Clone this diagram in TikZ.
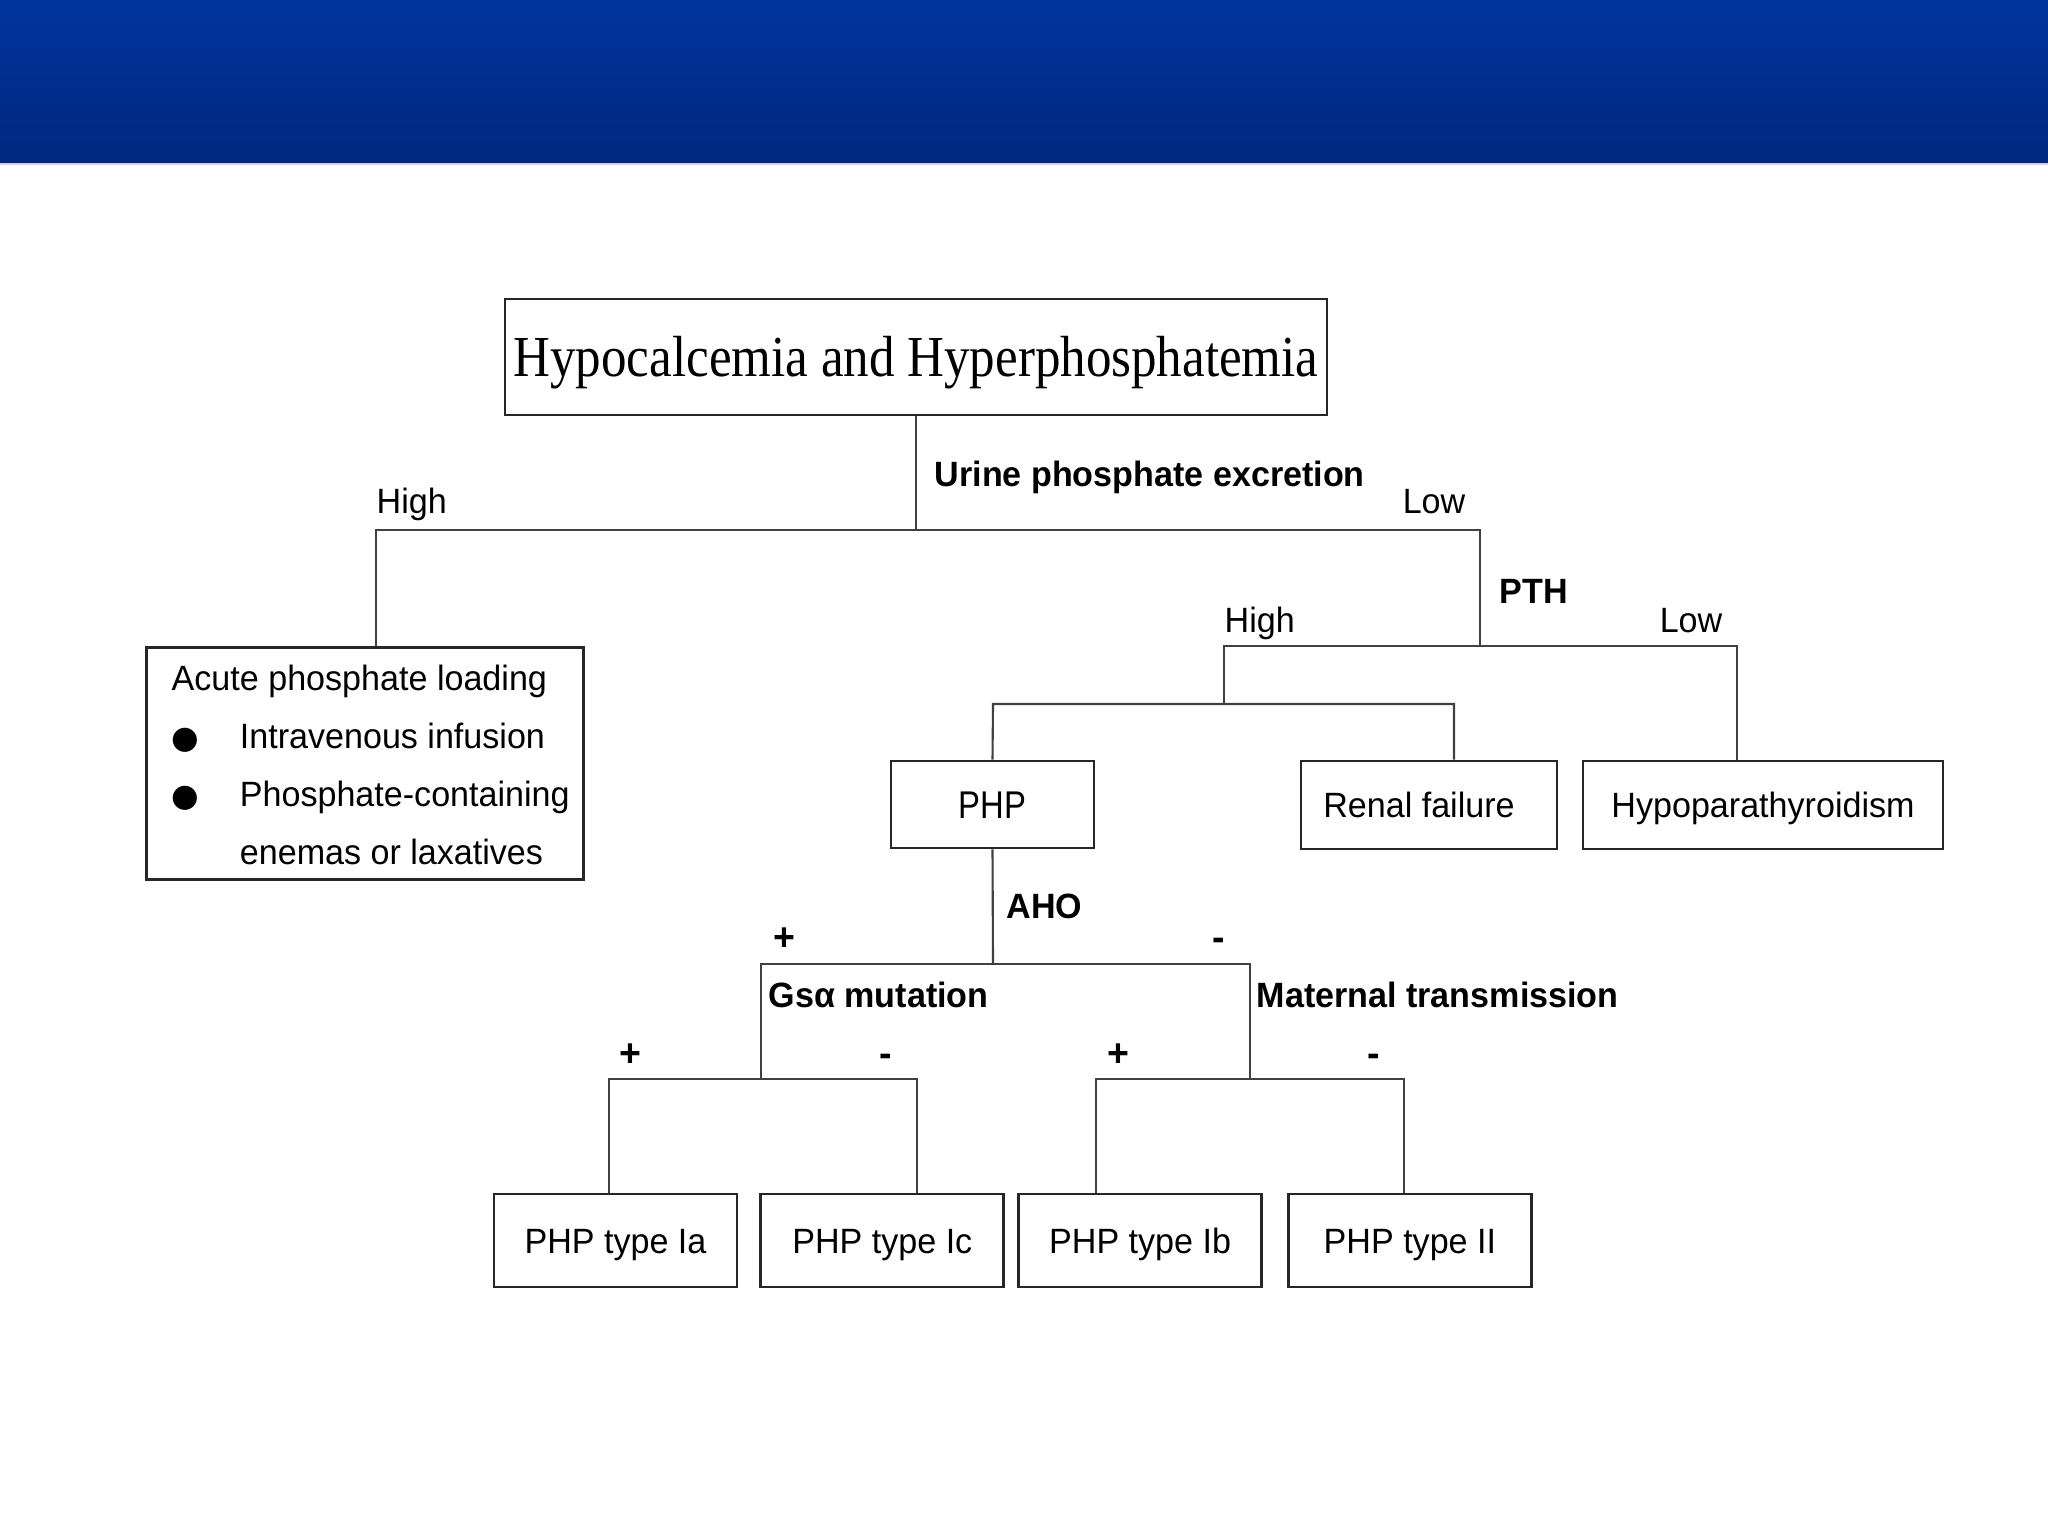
\documentclass[tikz,border=0pt]{standalone}
\usepackage{fontspec}
\setmainfont[FakeStretch=0.97]{Liberation Sans}
\newfontfamily\titlefont[FakeStretch=0.88]{Liberation Serif}
\newfontfamily\narrowsans[FakeStretch=0.85]{Liberation Sans}
\newfontfamily\dotfont{DejaVu Sans}
\usetikzlibrary{positioning}
\definecolor{bannertop}{RGB}{0,52,158}
\definecolor{bannerbot}{RGB}{0,40,126}

\begin{document}
\begin{tikzpicture}[x=0.1mm, y=-0.1mm,
    box/.style={rectangle, draw=black!85, line width=0.8pt, inner sep=0pt,
        text height=7.2pt, text depth=0pt, font=\fontsize{10}{12}\selectfont},
    leafbox/.style={box, minimum width=24.3mm, minimum height=9.3mm},
    link/.style={draw=black!75, line width=0.6pt},
    testlbl/.style={inner sep=0pt, font=\fontsize{10}{12}\selectfont\bfseries},
    branchlbl/.style={inner sep=0pt, font=\fontsize{10}{12}\selectfont},
    signlbl/.style={inner sep=0pt, font=\fontsize{11}{12}\selectfont\bfseries}]

    \useasboundingbox (0,0) rectangle (2048,1536);
    \fill[white] (0,0) rectangle (2048,1536);
    % Banner
    \shade[top color=bannertop, bottom color=bannerbot] (0,0) rectangle (2048,163);
    \draw[blue!20!white, line width=0.4pt] (0,164) -- (2048,164);

    % Nodes
    \node (top) [box, minimum width=82.2mm, minimum height=11.6mm, text height=10.9pt,
        font=\titlefont\fontsize{16.5}{20}\selectfont] at (916,357) {Hypocalcemia and Hyperphosphatemia};
    \node (acute) [box, anchor=north west, minimum width=43.7mm, minimum height=23.2mm] at (145,646) {};
    \node (acutetext) [anchor=north west, inner sep=0pt, font=\fontsize{10}{12}\selectfont] at (171,649)
        {\renewcommand\arraystretch{1.375}%
        \begin{tabular}{@{}p{19.4pt}@{}l@{}}
            \multicolumn{2}{@{}l@{}}{Acute phosphate loading}\\
            {\dotfont\fontsize{9}{9}\selectfont ●} & Intravenous infusion\\
            {\dotfont\fontsize{9}{9}\selectfont ●} & Phosphate-containing\\
            & enemas or laxatives
        \end{tabular}};
    \node (php) [box, minimum width=20.3mm, minimum height=8.7mm, text height=7.9pt,
        font=\narrowsans\fontsize{11}{13}\selectfont] at (992.5,804.5) {PHP};
    \node (renal) [box, minimum width=25.6mm, minimum height=8.8mm] at (1429,805) {Renal failure\rule{2mm}{0pt}};
    \node (hypo) [box, minimum width=36mm, minimum height=8.8mm] at (1763,805) {Hypoparathyroidism};
    \node (typeIa) [leafbox] at (615.5,1240.5) {PHP type Ia};
    \node (typeIc) [leafbox, right=2.1mm of typeIa] {PHP type Ic};
    \node (typeIb) [leafbox, right=1.2mm of typeIc] {PHP type Ib};
    \node (typeII) [leafbox, right=2.4mm of typeIb] {PHP type II};

    % Junctions
    \coordinate (urine) at (916,530);
    \coordinate (urineL) at (376,530);
    \coordinate (urineR) at (1480,530);
    \coordinate (pth) at (1480,646);
    \coordinate (pthL) at (1224,646);
    \coordinate (pthR) at (1737,646);
    \coordinate (pthH) at (1224,704);
    \coordinate (pthHL) at (993,704);
    \coordinate (pthHR) at (1454,704);
    \coordinate (aho) at (993,964);
    \coordinate (ahoL) at (761,964);
    \coordinate (ahoR) at (1250,964);
    \coordinate (gsa) at (761,1079);
    \coordinate (gsaL) at (609,1079);
    \coordinate (gsaR) at (917,1079);
    \coordinate (mat) at (1250,1079);
    \coordinate (matL) at (1096,1079);
    \coordinate (matR) at (1404,1079);

    % Connectors
    \draw[link] (top.south) -- (urine);
    \draw[link] (urineL |- acute.north) -- (urineL) -- (urineR) -- (pth);
    \draw[link] (pthH) -- (pthL) -- (pthR) -- (pthR |- hypo.north);
    \draw[link] (php.north) -- (pthHL) -- (pthHR) -- (pthHR |- renal.north);
    \draw[link] (php.south) -- (aho);
    \draw[link] (gsa) -- (ahoL) -- (ahoR) -- (mat);
    \draw[link] (gsaL |- typeIa.north) -- (gsaL) -- (gsaR) -- (gsaR |- typeIc.north);
    \draw[link] (matL |- typeIb.north) -- (matL) -- (matR) -- (matR |- typeII.north);

    % Labels
    \node (hiurine) [branchlbl, anchor=base west] at (376,513) {High};
    \node (urinelbl) [testlbl, anchor=base west] at (934,486) {Urine phosphate excretion};
    \node (lourine) [branchlbl, anchor=base east] at (1466,513) {Low};
    \node (pthlbl) [testlbl, anchor=base west] at (1499,603) {PTH};
    \node (hipth) [branchlbl, anchor=base west] at (1224,632) {High};
    \node (lopth) [branchlbl, anchor=base east] at (1723,632) {Low};
    \node (aholbl) [testlbl, anchor=base west] at (1006,918) {AHO};
    \node (ahopos) [signlbl, anchor=base] at (784,950) {+};
    \node (ahoneg) [signlbl, anchor=base] at (1219,950) {-};
    \node (gsalbl) [testlbl, anchor=base west] at (768,1007) {Gsα mutation};
    \node (matlbl) [testlbl, anchor=base west] at (1256,1007) {Maternal transmission};
    \node (gsapos) [signlbl, anchor=base] at (630,1066) {+};
    \node (gsaneg) [signlbl, anchor=base] at (886,1066) {-};
    \node (matpos) [signlbl, anchor=base] at (1118,1066) {+};
    \node (matneg) [signlbl, anchor=base] at (1374,1066) {-};
\end{tikzpicture}
\end{document}
